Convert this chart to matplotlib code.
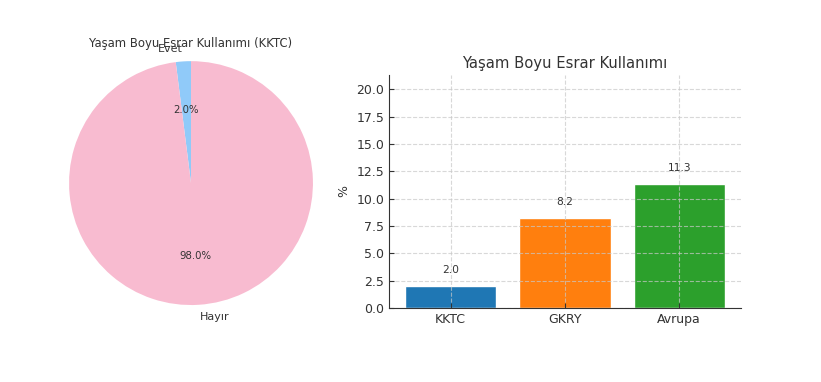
"""Lifetime cannabis use: KKTC pie + comparison bars
"""
import matplotlib
matplotlib.use('Agg')
import matplotlib.pyplot as plt
from matplotlib.ticker import MultipleLocator

pie_labels = ['Evet', 'Hayır']
pie_values = [2.0, 98.0]
pie_colors = ['#90CAF9', '#F8BBD0']

regions = ['KKTC', 'GKRY', 'Avrupa']
usage_pct = [2.0, 8.2, 11.3]
bar_colors = ['#1f77b4', '#ff7f0e', '#2ca02c']

text_color = '#333333'
plt.rcParams['text.color'] = text_color
plt.rcParams['axes.labelcolor'] = text_color
plt.rcParams['xtick.color'] = text_color
plt.rcParams['ytick.color'] = text_color


def main():
    fig = plt.figure(figsize=(8.21, 3.82), dpi=100)

    # pie
    ax1 = fig.add_axes([0.0469, 0.1217, 0.3715, 0.798])
    ax1.pie(pie_values, labels=pie_labels, colors=pie_colors,
            autopct='%1.1f%%', startangle=90,
            textprops={'fontsize': 8, 'color': text_color})
    for t in ax1.texts:
        if t.get_text().endswith('%'):
            t.set_fontsize(7.3)
    ax1.set_aspect('equal')
    ax1.set_title('Yaşam Boyu Esrar Kullanımı (KKTC)', fontsize=8.4,
                  y=0.945, pad=0)

    # bars
    ax2 = fig.add_axes([0.4738, 0.1937, 0.4287, 0.61])
    bars = ax2.bar(regions, usage_pct, color=bar_colors, edgecolor='white')
    for b, v in zip(bars, usage_pct):
        ax2.text(b.get_x() + b.get_width() / 2, v + 1, '{:.1f}'.format(v),
                 ha='center', va='bottom', fontsize=7.7)
    ax2.set_ylim(0, max(usage_pct) + 10)
    ax2.yaxis.set_major_locator(MultipleLocator(2.5))
    ax2.set_ylabel('%', fontsize=9)
    ax2.set_title('Yaşam Boyu Esrar Kullanımı', fontsize=10.6, pad=5)
    ax2.tick_params(labelsize=9, direction='in')
    ax2.grid(True, linestyle='--', alpha=0.7, color='#c8c8c8')
    ax2.spines['top'].set_visible(False)
    ax2.spines['right'].set_visible(False)
    ax2.spines['left'].set_color(text_color)
    ax2.spines['bottom'].set_color(text_color)

    fig.savefig('out.png', dpi=100)
    plt.close()


if __name__ == '__main__':
    main()
